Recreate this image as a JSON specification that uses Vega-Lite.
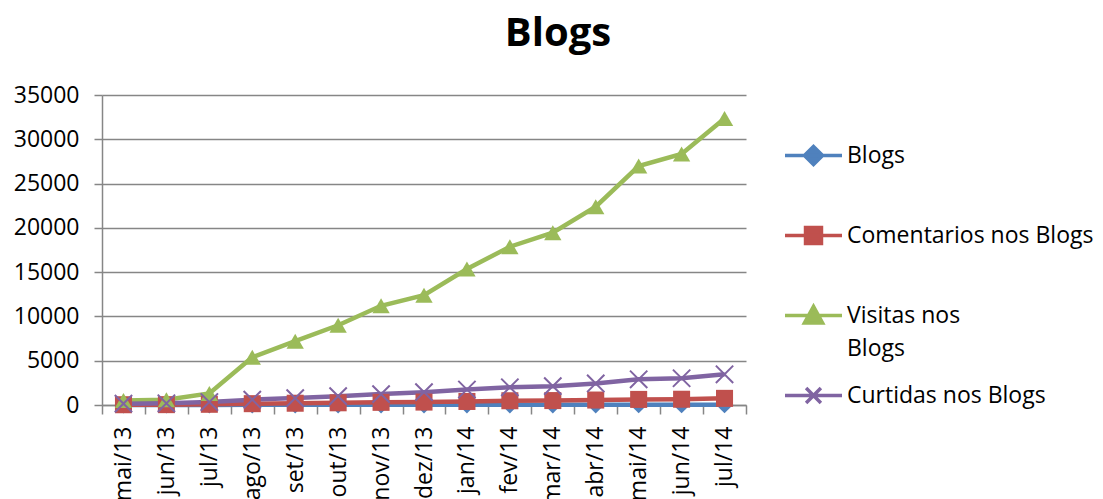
{
  "$schema": "https://vega.github.io/schema/vega-lite/v6.json",
  "autosize": {"type": "none"},
  "padding": {"left": 102, "top": 95, "right": 357, "bottom": 94},
  "width": 644,
  "height": 310,
  "background": "white",
  "title": {
    "text": "Blogs",
    "font": "Open Sans",
    "fontSize": 40,
    "fontWeight": "bold",
    "color": "#000000",
    "anchor": "middle",
    "frame": "group",
    "baseline": "alphabetic",
    "offset": -2,
    "dx": 134
  },
  "config": {
    "view": {"stroke": null},
    "axis": {
      "labelFont": "Open Sans",
      "labelFontSize": 23,
      "labelColor": "#000000",
      "domainColor": "#868686",
      "tickColor": "#868686",
      "gridColor": "#868686",
      "domainWidth": 1.5,
      "tickWidth": 1.5,
      "gridWidth": 1.5
    }
  },
  "data": {
    "values": [
      {"month": "mai/13", "series": "Blogs", "value": 10},
      {"month": "jun/13", "series": "Blogs", "value": 12},
      {"month": "jul/13", "series": "Blogs", "value": 14},
      {"month": "ago/13", "series": "Blogs", "value": 16},
      {"month": "set/13", "series": "Blogs", "value": 18},
      {"month": "out/13", "series": "Blogs", "value": 20},
      {"month": "nov/13", "series": "Blogs", "value": 22},
      {"month": "dez/13", "series": "Blogs", "value": 24},
      {"month": "jan/14", "series": "Blogs", "value": 26},
      {"month": "fev/14", "series": "Blogs", "value": 28},
      {"month": "mar/14", "series": "Blogs", "value": 30},
      {"month": "abr/14", "series": "Blogs", "value": 32},
      {"month": "mai/14", "series": "Blogs", "value": 34},
      {"month": "jun/14", "series": "Blogs", "value": 36},
      {"month": "jul/14", "series": "Blogs", "value": 38},
      {"month": "mai/13", "series": "Comentarios nos  Blogs", "value": 30},
      {"month": "jun/13", "series": "Comentarios nos  Blogs", "value": 40},
      {"month": "jul/13", "series": "Comentarios nos  Blogs", "value": 80},
      {"month": "ago/13", "series": "Comentarios nos  Blogs", "value": 150},
      {"month": "set/13", "series": "Comentarios nos  Blogs", "value": 200},
      {"month": "out/13", "series": "Comentarios nos  Blogs", "value": 250},
      {"month": "nov/13", "series": "Comentarios nos  Blogs", "value": 300},
      {"month": "dez/13", "series": "Comentarios nos  Blogs", "value": 330},
      {"month": "jan/14", "series": "Comentarios nos  Blogs", "value": 400},
      {"month": "fev/14", "series": "Comentarios nos  Blogs", "value": 480},
      {"month": "mar/14", "series": "Comentarios nos  Blogs", "value": 500},
      {"month": "abr/14", "series": "Comentarios nos  Blogs", "value": 560},
      {"month": "mai/14", "series": "Comentarios nos  Blogs", "value": 630},
      {"month": "jun/14", "series": "Comentarios nos  Blogs", "value": 650},
      {"month": "jul/14", "series": "Comentarios nos  Blogs", "value": 750},
      {"month": "mai/13", "series": "Visitas nos Blogs", "value": 500},
      {"month": "jun/13", "series": "Visitas nos Blogs", "value": 600},
      {"month": "jul/13", "series": "Visitas nos Blogs", "value": 1300},
      {"month": "ago/13", "series": "Visitas nos Blogs", "value": 5400},
      {"month": "set/13", "series": "Visitas nos Blogs", "value": 7200},
      {"month": "out/13", "series": "Visitas nos Blogs", "value": 9000},
      {"month": "nov/13", "series": "Visitas nos Blogs", "value": 11200},
      {"month": "dez/13", "series": "Visitas nos Blogs", "value": 12400},
      {"month": "jan/14", "series": "Visitas nos Blogs", "value": 15350},
      {"month": "fev/14", "series": "Visitas nos Blogs", "value": 17870},
      {"month": "mar/14", "series": "Visitas nos Blogs", "value": 19450},
      {"month": "abr/14", "series": "Visitas nos Blogs", "value": 22390},
      {"month": "mai/14", "series": "Visitas nos Blogs", "value": 26980},
      {"month": "jun/14", "series": "Visitas nos Blogs", "value": 28340},
      {"month": "jul/14", "series": "Visitas nos Blogs", "value": 32350},
      {"month": "mai/13", "series": "Curtidas nos Blogs", "value": 150},
      {"month": "jun/13", "series": "Curtidas nos Blogs", "value": 190},
      {"month": "jul/13", "series": "Curtidas nos Blogs", "value": 330},
      {"month": "ago/13", "series": "Curtidas nos Blogs", "value": 600},
      {"month": "set/13", "series": "Curtidas nos Blogs", "value": 780},
      {"month": "out/13", "series": "Curtidas nos Blogs", "value": 1000},
      {"month": "nov/13", "series": "Curtidas nos Blogs", "value": 1230},
      {"month": "dez/13", "series": "Curtidas nos Blogs", "value": 1450},
      {"month": "jan/14", "series": "Curtidas nos Blogs", "value": 1750},
      {"month": "fev/14", "series": "Curtidas nos Blogs", "value": 2000},
      {"month": "mar/14", "series": "Curtidas nos Blogs", "value": 2130},
      {"month": "abr/14", "series": "Curtidas nos Blogs", "value": 2430},
      {"month": "mai/14", "series": "Curtidas nos Blogs", "value": 2900},
      {"month": "jun/14", "series": "Curtidas nos Blogs", "value": 3020},
      {"month": "jul/14", "series": "Curtidas nos Blogs", "value": 3470}
    ]
  },
  "encoding": {
    "x": {
      "field": "month",
      "type": "ordinal",
      "sort": null,
      "scale": {"paddingInner": 0, "paddingOuter": 0},
      "axis": {
        "title": null,
        "labelAngle": -90,
        "tickBand": "extent",
        "tickSize": 9,
        "labelPadding": 12,
        "grid": false,
        "labelBaseline": "middle"
      }
    },
    "y": {
      "field": "value",
      "type": "quantitative",
      "scale": {"domain": [0, 35000], "nice": false},
      "axis": {
        "title": null,
        "values": [0, 5000, 10000, 15000, 20000, 25000, 30000, 35000],
        "format": "d",
        "grid": true,
        "tickSize": 8,
        "labelPadding": 15,
        "domain": true
      }
    }
  },
  "layer": [
    {
      "mark": {"type": "line", "strokeWidth": 4.5},
      "encoding": {
        "color": {
          "field": "series",
          "type": "nominal",
          "sort": ["Blogs", "Comentarios nos  Blogs", "Visitas nos Blogs", "Curtidas nos Blogs"],
          "scale": {
            "domain": ["Blogs", "Comentarios nos  Blogs", "Visitas nos Blogs", "Curtidas nos Blogs"],
            "range": ["#4F81BD", "#C0504D", "#9BBB59", "#8064A2"]
          },
          "legend": {
            "orient": "none",
            "legendX": 681,
            "legendY": 30,
            "padding": 0,
            "title": null,
            "symbolSize": 3249,
            "symbolStrokeWidth": 3.5,
            "labelFont": "Open Sans",
            "labelFontSize": 23,
            "labelColor": "#000000",
            "labelLimit": 400,
            "labelOffset": 3,
            "rowPadding": 4,
            "labelExpr": "datum.label == 'Visitas nos Blogs' ? ['Visitas nos', 'Blogs'] : [datum.label, ' ']",
            "encode": {
              "symbols": {
                "update": {
                  "shape": {"signal": "datum.value == 'Blogs' ? 'M-1,0H1M0,-0.32L0.32,0L0,0.32L-0.32,0Z' : datum.value == 'Comentarios nos  Blogs' ? 'M-1,0H1M-0.28,-0.28H0.28V0.28H-0.28Z' : datum.value == 'Visitas nos Blogs' ? 'M-1,0H1M0,-0.32L0.32,0.26H-0.32Z' : 'M-1,0H1M-0.26,-0.26L0.26,0.26M-0.26,0.26L0.26,-0.26'"},
                  "fill": {"signal": "scale('color', datum.value)"}
                }
              },
              "labels": {
                "update": {
                  "lineHeight": {"value": 33}
                }
              }
            }
          }
        }
      }
    },
    {
      "transform": [{"filter": "datum.series == 'Blogs'"}],
      "mark": {"type": "point", "filled": true, "opacity": 1, "size": 300, "shape": "diamond", "color": "#4F81BD"}
    },
    {
      "transform": [{"filter": "datum.series == 'Comentarios nos  Blogs'"}],
      "mark": {"type": "point", "filled": true, "opacity": 1, "size": 290, "shape": "square", "color": "#C0504D"}
    },
    {
      "transform": [{"filter": "datum.series == 'Visitas nos Blogs'"}],
      "mark": {"type": "point", "filled": true, "opacity": 1, "size": 300, "shape": "triangle-up", "color": "#9BBB59"}
    },
    {
      "transform": [{"filter": "datum.series == 'Curtidas nos Blogs'"}],
      "mark": {"type": "point", "filled": false, "opacity": 1, "size": 300, "shape": "M-1,-1L1,1M-1,1L1,-1", "color": "#8064A2", "strokeWidth": 2}
    }
  ]
}
